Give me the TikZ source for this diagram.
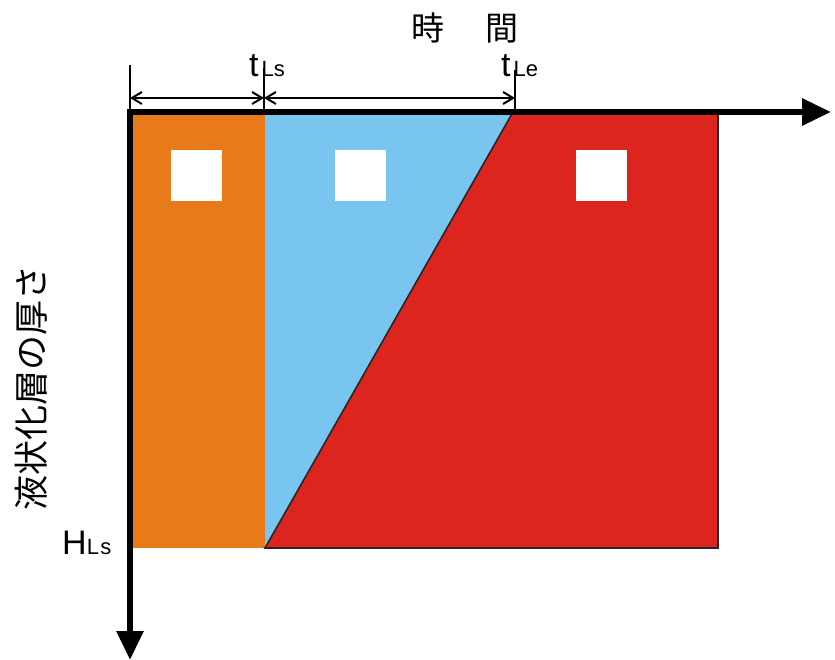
\documentclass[tikz,border=0pt]{standalone}
\usepackage{fontspec}
\setmainfont{Liberation Sans}
\newfontfamily\jpfont{Noto Sans CJK JP}
\usepackage{xcolor}
\usepackage{tikz}
\usetikzlibrary{arrows.meta}
\definecolor{layerorange}{RGB}{232,122,26}
\definecolor{layerblue}{RGB}{120,198,240}
\definecolor{layerred}{RGB}{219,37,30}
\newcommand{\bigtxt}{\fontsize{34}{34}\selectfont}
\newcommand{\subtxt}{\fontsize{22}{22}\selectfont}

\begin{document}
\begin{tikzpicture}[x=1pt, y=-1pt, axis/.style={line width=6pt, line join=miter, {Triangle[length=29pt,width=26pt]}-{Triangle[length=29pt,width=26pt]}}, dim/.style={line width=2pt, {Straight Barb[length=10pt,width=12pt]}-{Straight Barb[length=10pt,width=12pt]}}, tick/.style={line width=1.3pt}, hole/.style={fill=white, minimum size=51pt, inner sep=0pt}, lbl/.style={inner sep=0pt}]

\useasboundingbox (0,0) rectangle (835,660);

% corners of the layers
\coordinate (O) at (130,112);
\coordinate (s) at (265,112);
\coordinate (e) at (513,112);
\coordinate (r) at (718,112);
\coordinate (hO) at (130,548);
\coordinate (hs) at (265,548);
\coordinate (hr) at (718,548);

\fill[layerorange] (O) rectangle (hs);
\fill[layerblue] (s) -- (e) -- (hs) -- cycle;
\fill[layerred, draw=black!85, line width=1.6pt] (e) -- (r) -- (hr) -- (hs) -- cycle;

\node[hole] (b1) at (196.5,175.5) {};
\node[hole] (b2) at (360.5,175.5) {};
\node[hole] (b3) at (601.5,175.5) {};

% axes
\coordinate (xend) at (831,112);
\coordinate (yend) at (130,660);
\draw[axis] (xend) -- (O) -- (yend);

% ticks and dimension lines
\coordinate (k0) at (130,65);
\coordinate (k1) at (264,68);
\coordinate (k2) at (515,70);
\coordinate (a1) at (264,112);
\coordinate (a2) at (515,112);
\draw[tick] (k0) -- (O);
\draw[tick] (k1) -- (a1);
\draw[tick] (k2) -- (a2);
\coordinate (d0) at (130,98);
\coordinate (d1) at (264,98);
\coordinate (d2) at (515,98);
\draw[dim] (d0) -- (d1);
\draw[dim] (d1) -- (d2);

% labels
\node[lbl, anchor=base west] (tLs) at (249,77) {\bigtxt t\kern3pt\subtxt Ls};
\node[lbl, anchor=base west] (tLe) at (501,77) {\bigtxt t\kern3pt\subtxt Le};
\node[lbl, anchor=base west] (HLs) at (62,554) {\bigtxt H\subtxt L\kern1.5pt s};
\node[lbl, anchor=base] (time) at (465,41) {\jpfont\fontsize{33}{33}\selectfont 時\hspace{41pt}間};
\node[lbl, anchor=base, rotate=90] (depth) at (44,388) {\jpfont\fontsize{35}{35}\selectfont 液状化層の厚さ};
\end{tikzpicture}
\end{document}
